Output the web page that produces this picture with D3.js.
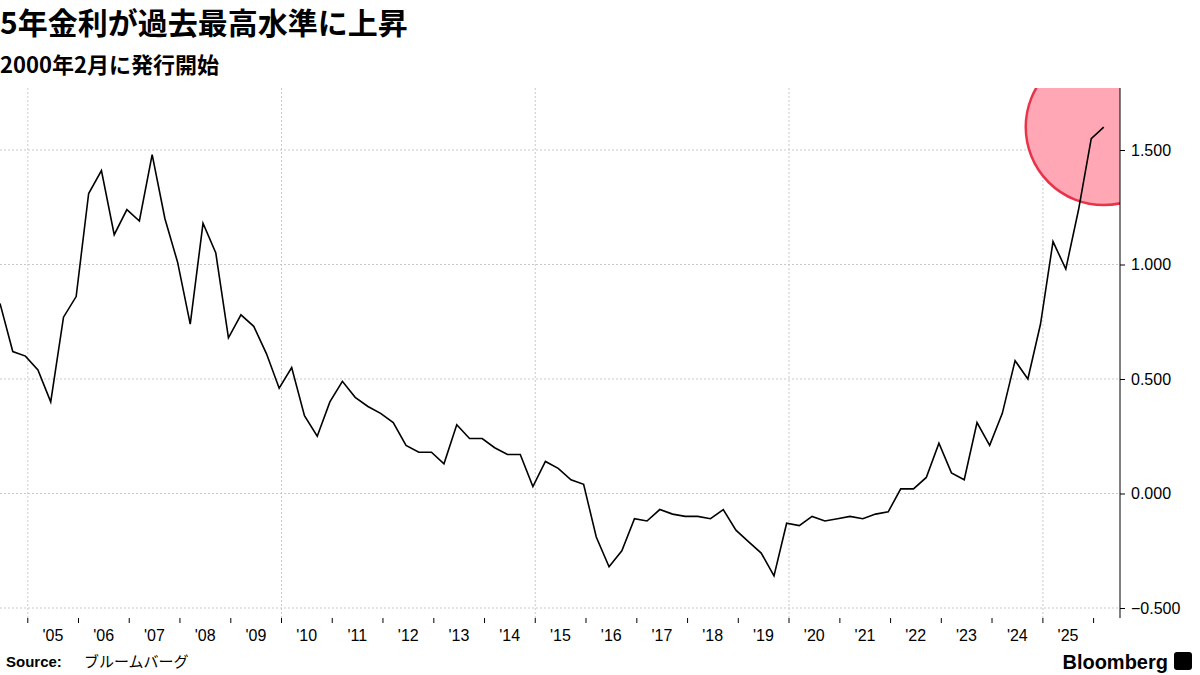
<!DOCTYPE html>
<html><head><meta charset="utf-8">
<script src="https://cdn.jsdelivr.net/npm/d3@7"></script>
<style>body{margin:0;background:#fff;font-family:"Noto Sans CJK JP","Noto Sans",sans-serif}</style>
</head><body><svg id="c" width="1200" height="675"></svg>
<script>
const startDate = new Date(2004, 5, 15);
const values = [0.83,0.62,0.60,0.54,0.40,0.77,0.86,1.31,1.41,1.13,1.24,1.19,1.48,1.20,1.01,0.74,1.18,1.05,0.68,0.78,0.73,0.61,0.46,0.55,0.34,0.25,0.40,0.49,0.42,0.38,0.35,0.31,0.21,0.18,0.18,0.13,0.30,0.24,0.24,0.20,0.17,0.17,0.03,0.14,0.11,0.06,0.04,-0.19,-0.32,-0.25,-0.11,-0.12,-0.07,-0.09,-0.10,-0.10,-0.11,-0.07,-0.16,-0.21,-0.26,-0.36,-0.13,-0.14,-0.10,-0.12,-0.11,-0.10,-0.11,-0.09,-0.08,0.02,0.02,0.07,0.22,0.09,0.06,0.31,0.21,0.35,0.58,0.50,0.74,1.10,0.98,1.24,1.55,1.60];
const yTicks = [-0.5,0,0.5,1.0,1.5];
const yearLabels = ["'05","'06","'07","'08","'09","'10","'11","'12","'13","'14","'15","'16","'17","'18","'19","'20","'21","'22","'23","'24","'25"];
const gridYears = [2005,2010,2015,2020,2025];
const title = "5年金利が過去最高水準に上昇";
const subtitle = "2000年2月に発行開始";

const data = values.map((v,i)=>({d:d3.timeMonth.offset(startDate, 3*i), v}));
const svg = d3.select("#c");
const L=0,R=1120,T=88,B=618;
const x = d3.scaleTime().domain([new Date(2004,5,15), new Date(2026,6,10)]).range([L,R]);
const y = d3.scaleLinear().domain([-0.5,1.5]).range([608,150]);

svg.append("defs").append("clipPath").attr("id","cp").append("rect").attr("x",L).attr("y",T).attr("width",R-L).attr("height",B-T);

svg.append("g").selectAll("line").data(yTicks).join("line")
  .attr("x1",L).attr("x2",R).attr("y1",d=>y(d)).attr("y2",d=>y(d))
  .attr("stroke","#bbb").attr("stroke-dasharray","2,2").attr("stroke-width",0.8);
svg.append("g").selectAll("line").data(gridYears).join("line")
  .attr("x1",d=>x(new Date(d,0,1))).attr("x2",d=>x(new Date(d,0,1))).attr("y1",T).attr("y2",B)
  .attr("stroke","#bbb").attr("stroke-dasharray","2,2").attr("stroke-width",0.8);

const last = data[data.length-1];
svg.append("circle").attr("clip-path","url(#cp)")
  .attr("cx",x(last.d)).attr("cy",y(last.v)).attr("r",78)
  .attr("fill","#ffa7b4").attr("stroke","#e8334a").attr("stroke-width",2.5);

svg.append("path").datum(data).attr("clip-path","url(#cp)")
  .attr("fill","none").attr("stroke","#000").attr("stroke-width",1.6)
  .attr("d",d3.line().x(d=>x(d.d)).y(d=>y(d.v)));

const ya = svg.append("g").attr("transform",`translate(${R},0)`)
  .call(d3.axisRight(y).tickValues(yTicks).tickFormat(d3.format(".3f")).tickSize(5).tickPadding(6));
ya.select(".domain").attr("d",`M0,${T}V${B}`).attr("stroke","#000");
ya.selectAll("text").attr("font-size",16).attr("font-family","Liberation Sans, Arial").attr("fill","#000");

const years = d3.range(2005,2026);
svg.append("g").selectAll("line").data(d3.range(2005,2027)).join("line")
  .attr("x1",d=>x(new Date(d,0,1))).attr("x2",d=>x(new Date(d,0,1))).attr("y1",B).attr("y2",B+5).attr("stroke","#000");
svg.append("g").selectAll("text").data(years).join("text")
  .attr("x",d=>x(new Date(d,6,1))).attr("y",641).attr("text-anchor","middle")
  .attr("font-size",16).attr("font-family","Liberation Sans, Arial").text((d,i)=>yearLabels[i]);

svg.append("text").attr("x",0).attr("y",34).attr("font-size",30).attr("font-weight","bold").text(title);
svg.append("text").attr("x",0).attr("y",73).attr("font-size",22).attr("font-weight","bold").text(subtitle);
svg.append("text").attr("x",6).attr("y",667).attr("font-size",15).attr("font-weight","bold").attr("font-family","Liberation Sans, Arial").text("Source:");
svg.append("text").attr("x",84).attr("y",667).attr("font-size",15).text("ブルームバーグ");
svg.append("text").attr("x",1168).attr("y",669).attr("text-anchor","end").attr("font-size",20).attr("font-weight","bold").attr("font-family","Liberation Sans, Arial").text("Bloomberg");
svg.append("rect").attr("x",1174).attr("y",652).attr("width",18).attr("height",18).attr("rx",3).attr("fill","#000");
</script></body></html>
